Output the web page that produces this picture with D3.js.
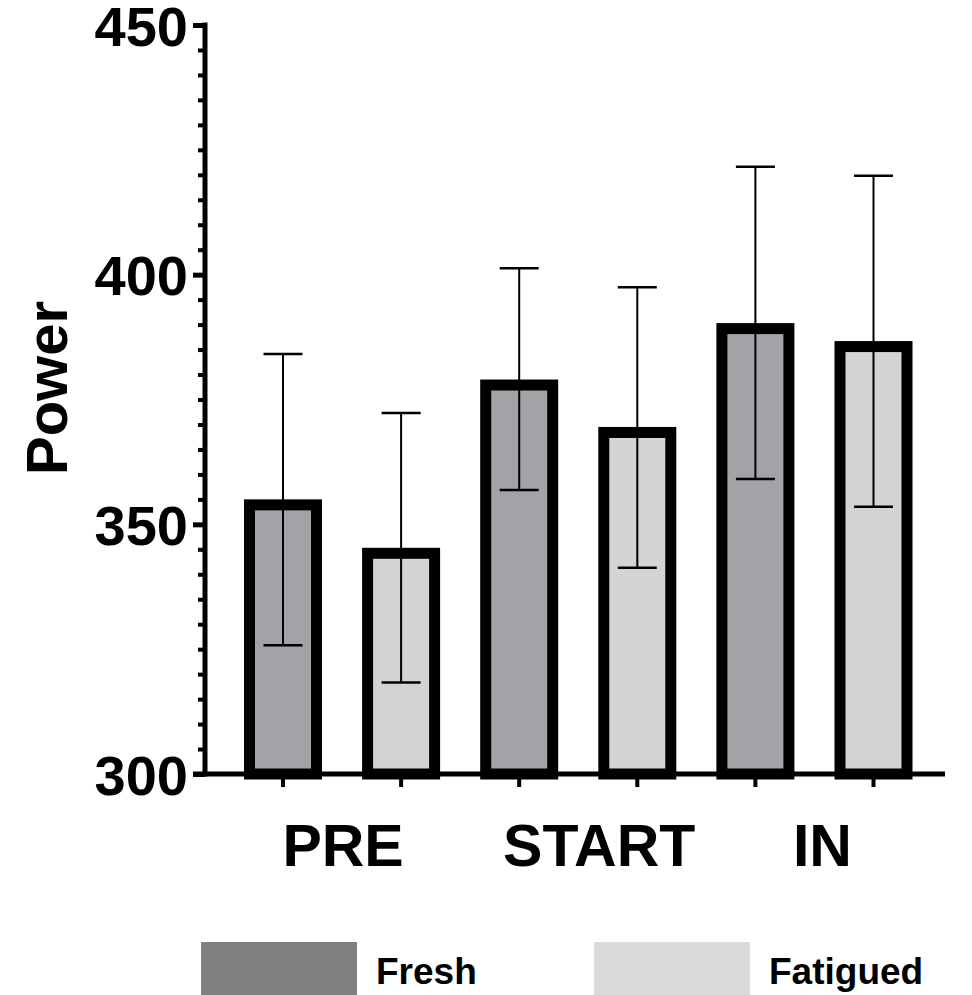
<!DOCTYPE html>
<html>
<head>
<meta charset="utf-8">
<script src="https://cdn.jsdelivr.net/npm/d3@7"></script>
<style>
html,body{margin:0;padding:0;background:#fff;}
svg{display:block;font-family:"Liberation Sans",Arial,sans-serif;font-weight:bold;}
</style>
</head>
<body>
<svg id="chart" width="972" height="995"></svg>
<script>
const categories = ["PRE", "START", "IN"];
const seriesNames = ["Fresh", "Fatigued"];
const freshMean = [355, 379, 390.3];
const freshUpper = [384.1, 401.3, 421.6];
const freshLower = [325.8, 356.9, 359.1];
const fatiguedMean = [345.3, 369.5, 386.7];
const fatiguedUpper = [372.3, 397.5, 419.8];
const fatiguedLower = [318.3, 341.3, 353.5];
const yTicks = [300, 350, 400, 450];
const yAxisLabel = "Power";

const colors = {Fresh: "#a3a2a7", Fatigued: "#d4d4d4"};
const legendColors = {Fresh: "#808080", Fatigued: "#d9d9d9"};

const bars = [];
categories.forEach((c, i) => {
  bars.push({key: c + "-Fresh", cat: c, series: "Fresh", mean: freshMean[i], hi: freshUpper[i], lo: freshLower[i]});
  bars.push({key: c + "-Fatigued", cat: c, series: "Fatigued", mean: fatiguedMean[i], hi: fatiguedUpper[i], lo: fatiguedLower[i]});
});

const svg = d3.select("#chart");
const y = d3.scaleLinear().domain([300, 450]).range([774, 25]);
const x = d3.scalePoint().domain(bars.map(d => d.key)).range([283, 873.5]);
const barW = 78, sw = 11;

// bars
svg.append("g").selectAll("rect").data(bars).join("rect")
  .attr("x", d => x(d.key) - barW / 2 + sw / 2)
  .attr("y", d => y(d.mean) + sw / 2)
  .attr("width", barW - sw)
  .attr("height", d => y(300) - y(d.mean) - sw / 2)
  .attr("fill", d => colors[d.series])
  .attr("stroke", "#000")
  .attr("stroke-width", sw);

// error bars
const eb = svg.append("g").attr("stroke", "#000").attr("stroke-width", 2);
eb.selectAll("line.v").data(bars).join("line").attr("class", "v")
  .attr("x1", d => x(d.key)).attr("x2", d => x(d.key))
  .attr("y1", d => y(d.hi)).attr("y2", d => y(d.lo));
eb.selectAll("line.t").data(bars).join("line").attr("class", "t")
  .attr("x1", d => x(d.key) - 19.5).attr("x2", d => x(d.key) + 19.5)
  .attr("y1", d => y(d.hi)).attr("y2", d => y(d.hi)).attr("stroke-width", 2.5);
eb.selectAll("line.b").data(bars).join("line").attr("class", "b")
  .attr("x1", d => x(d.key) - 19.5).attr("x2", d => x(d.key) + 19.5)
  .attr("y1", d => y(d.lo)).attr("y2", d => y(d.lo)).attr("stroke-width", 2.5);

// y axis
const minor = d3.range(300, 451, 5).filter(v => v % 50 !== 0);
const yAxisMajor = d3.axisLeft(y).tickValues(yTicks).tickSize(12).tickFormat(d3.format("d"));
const gy = svg.append("g").attr("transform", "translate(205,0)").call(yAxisMajor);
gy.select(".domain").remove();
gy.selectAll(".tick line").attr("stroke", "#000").attr("stroke-width", 5);
gy.selectAll(".tick text").attr("font-size", 56).attr("font-weight", "bold")
  .attr("font-family", "Liberation Sans, Arial, sans-serif").attr("fill", "#000")
  .attr("x", -17).attr("dy", "0.36em");
const gyMinor = svg.append("g").attr("transform", "translate(205,0)")
  .call(d3.axisLeft(y).tickValues(minor).tickSize(7).tickFormat(""));
gyMinor.select(".domain").remove();
gyMinor.selectAll(".tick line").attr("stroke", "#000").attr("stroke-width", 4);
svg.append("line").attr("x1", 205).attr("x2", 205)
  .attr("y1", y(450) - 2.5).attr("y2", y(300) + 2.5)
  .attr("stroke", "#000").attr("stroke-width", 5);

// x axis
svg.append("line").attr("x1", 193).attr("x2", 945)
  .attr("y1", y(300)).attr("y2", y(300)).attr("stroke", "#000").attr("stroke-width", 5);
svg.append("g").selectAll("line").data(bars).join("line")
  .attr("x1", d => x(d.key)).attr("x2", d => x(d.key))
  .attr("y1", y(300)).attr("y2", y(300) + 13)
  .attr("stroke", "#000").attr("stroke-width", 4);
const labelShift = [1, 21, 8];
svg.append("g").selectAll("text").data(categories).join("text")
  .attr("x", (c, i) => (x(c + "-Fresh") + x(c + "-Fatigued")) / 2 + labelShift[i])
  .attr("y", 866)
  .attr("text-anchor", "middle")
  .attr("font-size", 59)
  .attr("fill", "#000")
  .text(c => c);

// y label
svg.append("text")
  .attr("transform", "translate(67,388) rotate(-90)")
  .attr("text-anchor", "middle")
  .attr("font-size", 58)
  .attr("fill", "#000")
  .text(yAxisLabel);

// legend
const legendX = [201, 594];
const lg = svg.append("g").selectAll("g").data(seriesNames).join("g")
  .attr("transform", (d, i) => `translate(${legendX[i]},942)`);
lg.append("rect").attr("width", 156).attr("height", 53).attr("fill", d => legendColors[d]);
lg.append("text").attr("x", 175).attr("y", 42).attr("font-size", 37).attr("fill", "#000").text(d => d);
</script>
</body>
</html>
